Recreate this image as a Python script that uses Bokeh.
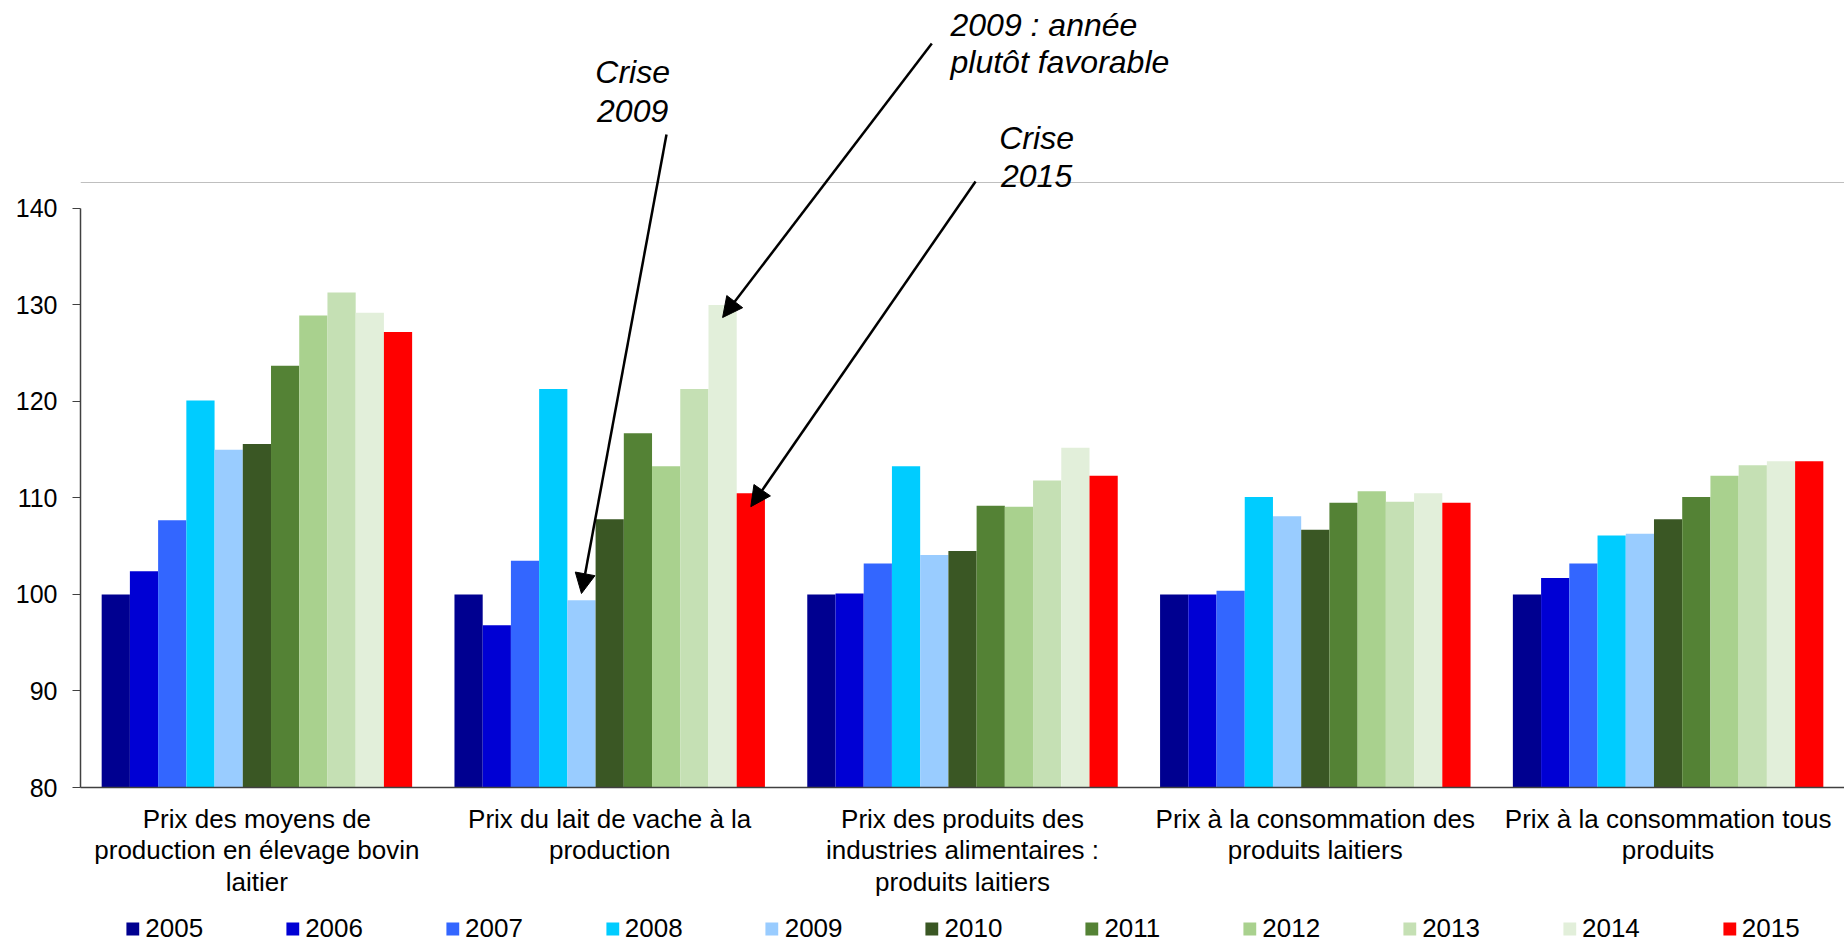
from bokeh.plotting import figure
from bokeh.layouts import column
from bokeh.models import (ColumnDataSource, FactorRange, Range1d, Legend, LegendItem,
                          Arrow, NormalHead, Label, Span, FixedTicker)
from bokeh.transform import dodge
from bokeh.embed import file_html
from bokeh.resources import INLINE

# ---------------- data ----------------
categories = [
    "Prix des moyens de\nproduction en élevage bovin\nlaitier",
    "Prix du lait de vache à la\nproduction",
    "Prix des produits des\nindustries alimentaires :\nproduits laitiers",
    "Prix à la consommation des\nproduits laitiers",
    "Prix à la consommation tous\nproduits",
]
years = ["2005", "2006", "2007", "2008", "2009", "2010",
         "2011", "2012", "2013", "2014", "2015"]

y2005 = [100.0, 100.0, 100.0, 100.0, 100.0]
y2006 = [102.4, 96.8, 100.1, 100.0, 101.7]
y2007 = [107.7, 103.5, 103.2, 100.4, 103.2]
y2008 = [120.1, 121.3, 113.3, 110.1, 106.1]
y2009 = [115.0, 99.4, 104.1, 108.1, 106.3]
y2010 = [115.6, 107.8, 104.5, 106.7, 107.8]
y2011 = [123.7, 116.7, 109.2, 109.5, 110.1]
y2012 = [128.9, 113.3, 109.1, 110.7, 112.3]
y2013 = [131.3, 121.3, 111.8, 109.6, 113.4]
y2014 = [129.2, 130.0, 115.2, 110.5, 113.8]
y2015 = [127.2, 110.5, 112.3, 109.5, 113.8]

colors = ["#000090", "#0000D4", "#3366FF", "#00CCFF", "#99CCFF", "#3A5724",
          "#548235", "#A9D18E", "#C5E0B4", "#E2EFDA", "#FF0000"]

yticks = [80, 90, 100, 110, 120, 130, 140]

# annotations: text lines (x, y, text, align) and arrows
ann_texts = [
    (1.565, 154.1, "Crise", "center"),
    (1.565, 150.05, "2009", "center"),
    (2.466, 159.05, "2009 : année", "left"),
    (2.466, 155.2, "plutôt favorable", "left"),
    (2.710, 147.35, "Crise", "center"),
    (2.710, 143.4, "2015", "center"),
]
ann_arrows = [
    # x_start, y_start, category index, year index, y offset below bar top
    (1.661, 147.66, 1, 4, -0.7),
    (2.413, 157.09, 1, 9, 1.3),
    (2.537, 142.80, 1, 10, 1.4),
]

series = [y2005, y2006, y2007, y2008, y2009, y2010,
          y2011, y2012, y2013, y2014, y2015]

data = {"cat": categories}
for yr, s in zip(years, series):
    data[yr] = s
source = ColumnDataSource(data)

FONT = "Liberation Sans"
BAR_W = 0.08
W = 1844

p = figure(x_range=FactorRange(*categories, range_padding=0),
           y_range=Range1d(80, 161.55),
           width=W, height=909,
           output_backend="svg", toolbar_location=None,
           min_border_left=80, min_border_right=0,
           min_border_top=0, min_border_bottom=122)

for i, yr in enumerate(years):
    p.vbar(x=dodge("cat", (i - 5) * BAR_W, range=p.x_range), top=yr, bottom=80,
           width=BAR_W, source=source, fill_color=colors[i], line_color=None)

# axes
p.xaxis.major_tick_line_color = None
p.xaxis.minor_tick_line_color = None
p.xaxis.axis_line_color = "#404040"
p.xaxis.axis_line_width = 1.5
p.xaxis.major_label_text_font = FONT
p.xaxis.major_label_text_font_size = "26px"
p.xaxis.major_label_text_color = "black"
p.xaxis.major_label_text_line_height = 1.05
p.xaxis.major_label_standoff = 10

p.yaxis.ticker = FixedTicker(ticks=yticks)
p.yaxis.bounds = (80, 140)
p.yaxis.major_tick_out = 8
p.yaxis.major_tick_in = 0
p.yaxis.minor_tick_line_color = None
p.yaxis.axis_line_color = "#404040"
p.yaxis.major_tick_line_color = "#404040"
p.yaxis.axis_line_width = 1.5
p.yaxis.major_label_text_font = FONT
p.yaxis.major_label_text_font_size = "25px"
p.yaxis.major_label_text_color = "black"
p.yaxis.major_label_standoff = 15

p.xgrid.visible = False
p.ygrid.visible = False
p.outline_line_color = None

p.add_layout(Span(location=142.69, dimension="width", line_color="#BFBFBF", line_width=1))

for x, y, t, a in ann_texts:
    p.add_layout(Label(x=x, y=y, text=t, text_align=a, text_baseline="middle",
                       text_font=FONT, text_font_style="italic",
                       text_font_size="32px", text_color="black"))

for xs, ys, ci, yi, off in ann_arrows:
    xe = ci + 0.5 + (yi - 5) * BAR_W
    ye = series[yi][ci] - off
    p.add_layout(Arrow(end=NormalHead(size=20, fill_color="black", line_color="black"),
                       x_start=xs, y_start=ys, x_end=xe, y_end=ye,
                       line_color="black", line_width=2.5))

# ---------------- legend strip ----------------
lg = figure(width=W, height=38, x_range=Range1d(0, 1), y_range=Range1d(0, 1),
            output_backend="svg", toolbar_location=None,
            x_axis_location=None, y_axis_location=None,
            min_border_left=80, min_border_right=0,
            min_border_top=0, min_border_bottom=0)
lg.xgrid.visible = False
lg.ygrid.visible = False
lg.outline_line_color = None

items = []
for i, yr in enumerate(years):
    # one mark kept outside the strip's visible range; it only feeds the legend swatch
    r = lg.vbar(x=[-5.0], top=[-5.0], bottom=-6.0, width=0.1,
                fill_color=colors[i], line_color=None)
    items.append(LegendItem(label=yr, renderers=[r]))

legend = Legend(items=items, orientation="horizontal", location="center",
                spacing=81, glyph_width=16, glyph_height=16, label_standoff=5,
                label_text_font=FONT, label_text_font_size="26px",
                label_text_color="black", padding=0, margin=0,
                border_line_color=None, background_fill_alpha=0)
lg.add_layout(legend, "center")

layout = column(p, lg, spacing=0)
open("out.html", "w").write(file_html(layout, INLINE))
